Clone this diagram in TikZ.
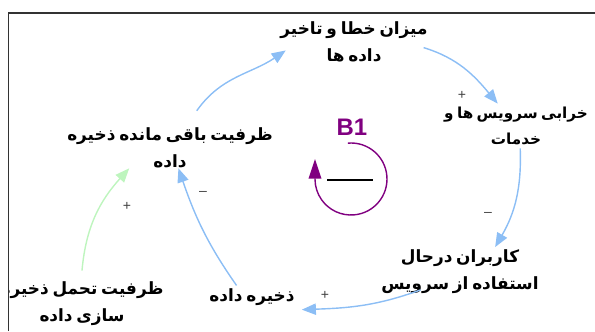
\documentclass[tikz,border=0pt]{standalone}
\usepackage{fontspec}
\usetikzlibrary{arrows.meta,calc}
\newfontfamily\farsi[Script=Arabic,WordSpace=0.65]{DejaVu Sans}
\newfontfamily\latin{Liberation Sans}
\TeXXeTstate=1
\newcommand{\rl}[1]{\beginR#1\endR}
\definecolor{linkblue}{RGB}{140,190,245}
\definecolor{linkgreen}{RGB}{190,245,190}
\definecolor{loopviolet}{RGB}{128,0,128}

\begin{document}
\begin{tikzpicture}[x=0.025cm, y=0.025cm,
    var/.style={font=\farsi\bfseries\fontsize{12}{19}\selectfont, align=center, inner sep=2pt},
    link/.style={linkblue, line width=1pt, -{Triangle[length=10pt,width=8pt]}},
    sign/.style={font=\latin\fontsize{10}{10}\selectfont, text=black!75}]
    \useasboundingbox (0,0) rectangle (595,-331);
    % frame
    \draw[black!80, line width=1pt] (8.5,-331) |- (595,-13);
    \clip (9,-13.5) rectangle (595,-331);

    % variables
    \node[var] (err) at (354,-42) {\rl{میزان خطا و تاخیر}\\\rl{داده ها}};
    \node[var, font=\farsi\bfseries\fontsize{10.8}{19}\selectfont] (fail) at (516,-126) {\rl{خرابی سرویس ها و}\\\rl{خدمات}};
    \node[var] (users) at (460,-272) {\rl{کاربران درحال}\\\rl{استفاده از سرویس}};
    \node[var] (store) at (252,-297) {\rl{ذخیره داده}};
    \node[var] (remain) at (170,-148) {\rl{ظرفیت باقی مانده ذخیره}\\\rl{داده}};
    \node[var] (cap) at (82,-304) {\rl{ظرفیت تحمل ذخیره}\\\rl{سازی داده}};

    % links
    \draw[link] ([xshift=19pt,yshift=10pt]remain.north) to[out=55,in=214] ([xshift=6pt,yshift=-6pt]err.west);
    \draw[link] ([xshift=-5pt,yshift=-4pt]err.east) to[out=-17,in=130] ([xshift=-13pt]fail.north);
    \draw[link] ([xshift=3pt]fail.south) to[out=-88,in=60] ([xshift=25pt]users.north);
    \draw[link] ([xshift=-28pt,yshift=5pt]users.south) to[out=-160,in=2] ([xshift=3pt,yshift=-9pt]store.east);
    \draw[link] ([xshift=-11pt]store.north) to[out=125,in=-71] ([xshift=6pt,yshift=2pt]remain.south);
    \draw[link, linkgreen] ([yshift=6pt]cap.north) to[out=85,in=-132] ([xshift=-29pt,yshift=2pt]remain.south);

    % polarities
    \node[sign] (s1) at (462,-95) {+};
    \node[sign] (s2) at (488,-214) {–};
    \node[sign] (s3) at (325,-295) {+};
    \node[sign] (s4) at (203,-193) {–};
    \node[sign] (s5) at (127,-206) {+};

    % loop B1
    \node[font=\latin\bfseries\fontsize{17}{17}\selectfont, text=loopviolet] (b1) at (352,-127) {B1};
    \coordinate (loopc) at (351,-179);
    \draw[loopviolet, line width=1pt, -{Triangle[length=14pt,width=9pt]}] ($(loopc)+(95:36)$) arc[start angle=95, end angle=-180, radius=36] -- ++(0,20);
    \draw[line width=2pt] (327,-180) -- (373,-180);
\end{tikzpicture}
\end{document}
